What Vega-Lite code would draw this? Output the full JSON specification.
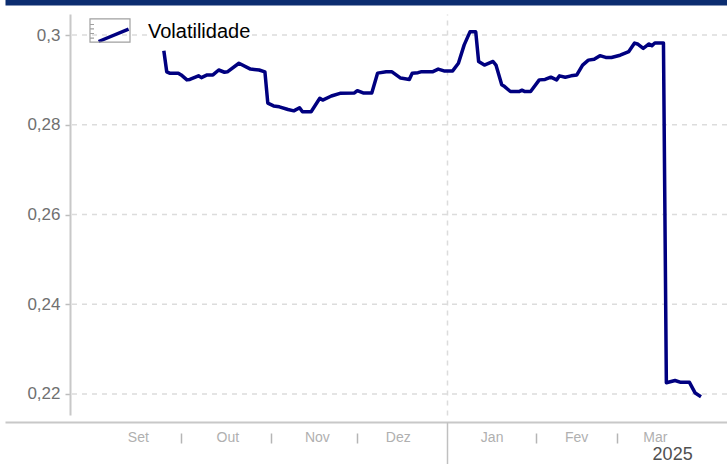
{
  "$schema": "https://vega.github.io/schema/vega-lite/v6.json",
  "width": 657,
  "height": 401,
  "autosize": {"type": "none"},
  "padding": {"left": 70, "top": 14, "right": 0, "bottom": 49},
  "background": "white",
  "config": {"view": {"stroke": null}, "font": "Liberation Sans"},
  "data": {"values": [
    {"date": "2024-09-25", "v": 0.2965},
    {"date": "2024-09-26", "v": 0.2918},
    {"date": "2024-09-27", "v": 0.2915},
    {"date": "2024-09-30", "v": 0.2915},
    {"date": "2024-10-01", "v": 0.2911},
    {"date": "2024-10-03", "v": 0.2900},
    {"date": "2024-10-04", "v": 0.2901},
    {"date": "2024-10-07", "v": 0.2909},
    {"date": "2024-10-08", "v": 0.2905},
    {"date": "2024-10-10", "v": 0.2911},
    {"date": "2024-10-12", "v": 0.2911},
    {"date": "2024-10-14", "v": 0.2922},
    {"date": "2024-10-16", "v": 0.2917},
    {"date": "2024-10-17", "v": 0.2918},
    {"date": "2024-10-21", "v": 0.2937},
    {"date": "2024-10-25", "v": 0.2924},
    {"date": "2024-10-28", "v": 0.2922},
    {"date": "2024-10-30", "v": 0.2918},
    {"date": "2024-10-31", "v": 0.2848},
    {"date": "2024-11-02", "v": 0.2842},
    {"date": "2024-11-04", "v": 0.2840},
    {"date": "2024-11-07", "v": 0.2834},
    {"date": "2024-11-09", "v": 0.2831},
    {"date": "2024-11-11", "v": 0.2838},
    {"date": "2024-11-12", "v": 0.2829},
    {"date": "2024-11-15", "v": 0.2829},
    {"date": "2024-11-18", "v": 0.2859},
    {"date": "2024-11-19", "v": 0.2855},
    {"date": "2024-11-22", "v": 0.2864},
    {"date": "2024-11-25", "v": 0.2870},
    {"date": "2024-11-30", "v": 0.2871},
    {"date": "2024-12-01", "v": 0.2876},
    {"date": "2024-12-03", "v": 0.2871},
    {"date": "2024-12-06", "v": 0.2871},
    {"date": "2024-12-08", "v": 0.2915},
    {"date": "2024-12-11", "v": 0.2918},
    {"date": "2024-12-13", "v": 0.2918},
    {"date": "2024-12-16", "v": 0.2904},
    {"date": "2024-12-19", "v": 0.2901},
    {"date": "2024-12-20", "v": 0.2915},
    {"date": "2024-12-22", "v": 0.2916},
    {"date": "2024-12-23", "v": 0.2918},
    {"date": "2024-12-27", "v": 0.2918},
    {"date": "2024-12-29", "v": 0.2924},
    {"date": "2024-12-31", "v": 0.2920},
    {"date": "2025-01-03", "v": 0.2920},
    {"date": "2025-01-05", "v": 0.2937},
    {"date": "2025-01-07", "v": 0.2978},
    {"date": "2025-01-09", "v": 0.3007},
    {"date": "2025-01-11", "v": 0.3007},
    {"date": "2025-01-12", "v": 0.2941},
    {"date": "2025-01-14", "v": 0.2933},
    {"date": "2025-01-17", "v": 0.2941},
    {"date": "2025-01-18", "v": 0.2933},
    {"date": "2025-01-20", "v": 0.2889},
    {"date": "2025-01-21", "v": 0.2885},
    {"date": "2025-01-23", "v": 0.2874},
    {"date": "2025-01-26", "v": 0.2874},
    {"date": "2025-01-27", "v": 0.2877},
    {"date": "2025-01-28", "v": 0.2874},
    {"date": "2025-01-30", "v": 0.2874},
    {"date": "2025-02-02", "v": 0.2900},
    {"date": "2025-02-04", "v": 0.2901},
    {"date": "2025-02-06", "v": 0.2906},
    {"date": "2025-02-08", "v": 0.2900},
    {"date": "2025-02-09", "v": 0.2909},
    {"date": "2025-02-11", "v": 0.2906},
    {"date": "2025-02-13", "v": 0.2909},
    {"date": "2025-02-15", "v": 0.2911},
    {"date": "2025-02-17", "v": 0.2933},
    {"date": "2025-02-19", "v": 0.2944},
    {"date": "2025-02-21", "v": 0.2946},
    {"date": "2025-02-23", "v": 0.2954},
    {"date": "2025-02-25", "v": 0.2950},
    {"date": "2025-02-27", "v": 0.2950},
    {"date": "2025-03-02", "v": 0.2955},
    {"date": "2025-03-05", "v": 0.2963},
    {"date": "2025-03-07", "v": 0.2982},
    {"date": "2025-03-08", "v": 0.2980},
    {"date": "2025-03-10", "v": 0.2970},
    {"date": "2025-03-12", "v": 0.2980},
    {"date": "2025-03-13", "v": 0.2976},
    {"date": "2025-03-14", "v": 0.2982},
    {"date": "2025-03-17", "v": 0.2982},
    {"date": "2025-03-18", "v": 0.2225},
    {"date": "2025-03-21", "v": 0.2230},
    {"date": "2025-03-23", "v": 0.2226},
    {"date": "2025-03-26", "v": 0.2226},
    {"date": "2025-03-28", "v": 0.2202},
    {"date": "2025-03-30", "v": 0.2194}
  ]},
  "layer": [
    {
      "data": {"values": [{"g": 0.22}, {"g": 0.24}, {"g": 0.26}, {"g": 0.28}, {"g": 0.3}]},
      "mark": {"type": "rule", "color": "#dcdcdc", "strokeDash": [5, 5], "strokeWidth": 1.5},
      "encoding": {
        "y": {"field": "g", "type": "quantitative"}
      }
    },
    {
      "mark": {"type": "line", "strokeWidth": 3.5, "strokeJoin": "round"},
      "encoding": {
        "x": {
          "field": "date", "type": "temporal",
          "scale": {"type": "utc", "domain": [{"year": 2024, "month": 8, "date": 1, "utc": true}, {"year": 2025, "month": 4, "date": 8, "utc": true}], "range": [-65, 657]},
          "axis": {
            "orient": "bottom", "offset": 7, "title": null, "grid": false, "ticks": false, "tickSize": 0,
            "domain": true, "domainColor": "#c8c8c8", "domainWidth": 2,
            "values": [
              {"year": 2024, "month": 9, "date": 16, "utc": true},
              {"year": 2024, "month": 10, "date": 17, "utc": true},
              {"year": 2024, "month": 11, "date": 17, "utc": true},
              {"year": 2024, "month": 12, "date": 15, "utc": true},
              {"year": 2025, "month": 1, "date": 16, "hours": 12, "utc": true},
              {"year": 2025, "month": 2, "date": 14, "hours": 18, "utc": true},
              {"year": 2025, "month": 3, "date": 14, "utc": true}
            ],
            "labelExpr": "['Jan','Fev','Mar','Abr','Mai','Jun','Jul','Ago','Set','Out','Nov','Dez'][utcmonth(datum.value)]",
            "labelColor": "#b0b0b0", "labelFontSize": 14, "labelPadding": 8, "labelAlign": "center", "labelBaseline": "top"
          }
        },
        "y": {
          "field": "v", "type": "quantitative",
          "scale": {"domain": [0.21532, 0.30468], "nice": false, "zero": false},
          "axis": {
            "title": null, "values": [0.22, 0.24, 0.26, 0.28, 0.3],
            "labelExpr": "replace(format(datum.value, '.2~f'), '.', ',')",
            "labelColor": "#707070", "labelFontSize": 17, "labelPadding": 5,
            "domainColor": "#c8c8c8", "domainWidth": 2,
            "tickColor": "#bdbdbd", "tickSize": 5, "tickWidth": 1.5,
            "grid": false
          }
        },
        "color": {
          "datum": "Volatilidade",
          "scale": {"domain": ["Volatilidade"], "range": ["#000080"]},
          "legend": {
            "orient": "none", "legendX": 19, "legendY": -4.5, "title": null, "padding": 0,
            "symbolType": "M-0.62,0.5L0.88,-0.12", "symbolSize": 1600, "symbolStrokeWidth": 3.5,
            "labelFontSize": 20, "labelColor": "#000000", "labelOffset": 15
          }
        }
      }
    },
    {
      "mark": {"type": "point", "opacity": 0},
      "encoding": {
        "x": {
          "field": "date", "type": "temporal",
          "axis": {
            "orient": "bottom", "offset": 18, "title": null, "grid": false, "domain": false, "labels": false,
            "ticks": true, "tickSize": 10, "tickColor": "#b5b5b5", "tickWidth": 1.5,
            "values": [
              {"year": 2024, "month": 10, "date": 1, "utc": true},
              {"year": 2024, "month": 11, "date": 1, "utc": true},
              {"year": 2024, "month": 12, "date": 1, "utc": true},
              {"year": 2025, "month": 2, "date": 1, "utc": true},
              {"year": 2025, "month": 3, "date": 1, "utc": true}
            ]
          }
        }
      }
    },
    {
      "mark": {"type": "point", "opacity": 0},
      "encoding": {
        "x": {
          "field": "date", "type": "temporal",
          "axis": {
            "orient": "bottom", "offset": 7, "title": null, "grid": false, "domain": false, "labels": false,
            "ticks": true, "tickSize": 45, "tickColor": "#c0c0c0", "tickWidth": 1.5,
            "values": [{"year": 2025, "month": 1, "date": 1, "utc": true}]
          }
        }
      }
    },
    {
      "mark": {"type": "point", "opacity": 0},
      "encoding": {
        "x": {
          "field": "date", "type": "temporal",
          "axis": {
            "orient": "bottom", "offset": 0, "title": null, "domain": false, "labels": false, "ticks": false,
            "grid": true, "gridColor": "#dcdcdc", "gridDash": [5, 5], "gridWidth": 1.5,
            "values": [{"year": 2025, "month": 1, "date": 1, "utc": true}]
          }
        }
      }
    },
    {
      "mark": {"type": "point", "opacity": 0},
      "encoding": {
        "x": {
          "field": "date", "type": "temporal",
          "axis": {
            "orient": "bottom", "offset": 7, "title": null, "grid": false, "domain": false, "ticks": false, "tickSize": 0,
            "values": [{"year": 2025, "month": 3, "date": 20, "utc": true}],
            "labelExpr": "utcFormat(datum.value, '%Y')",
            "labelColor": "#505050", "labelFontSize": 18, "labelPadding": 23, "labelBaseline": "top"
          }
        }
      }
    },
    {
      "mark": {"type": "point", "opacity": 0},
      "encoding": {
        "x": {
          "field": "date", "type": "temporal",
          "axis": {
            "orient": "top", "offset": 14, "title": null, "grid": false, "labels": false, "ticks": false,
            "domain": true, "domainColor": "#0c2d70", "domainWidth": 10
          }
        }
      }
    },
    {
      "mark": {"type": "point", "opacity": 0, "color": "#a0a0a0", "fill": "transparent"},
      "encoding": {
        "x": {"field": "date", "type": "temporal", "axis": null},
        "shape": {
          "datum": "caixa",
          "scale": {"domain": ["caixa"], "range": ["M-1,-0.58H1V0.58H-1Z M-1,-0.3H-0.8 M-1,-0.08H-0.8 M-1,0.15H-0.8 M-1,0.38H-0.8"]},
          "legend": {
            "orient": "none", "legendX": 19, "legendY": -4.5, "title": null, "padding": 0,
            "symbolSize": 1600, "symbolStrokeColor": "#a0a0a0", "symbolStrokeWidth": 1.2,
            "symbolFillColor": "transparent", "symbolOpacity": 1, "labelExpr": "''"
          }
        }
      }
    }
  ],
  "resolve": {"axis": {"x": "independent"}}
}
